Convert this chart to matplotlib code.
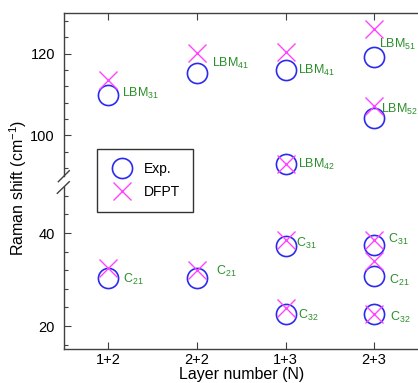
import matplotlib
matplotlib.use("Agg")
import matplotlib.pyplot as plt
from matplotlib.lines import Line2D
import numpy as np

plt.rcParams['font.family'] = ['Liberation Sans', 'DejaVu Sans']
plt.rcParams['mathtext.fontset'] = 'custom'
plt.rcParams['mathtext.rm'] = 'Liberation Sans'
plt.rcParams['mathtext.it'] = 'Liberation Sans:italic'
plt.rcParams['mathtext.bf'] = 'Liberation Sans:bold'

# ---------------- data ----------------
categories = ['1+2', '2+2', '1+3', '2+3']

lbm_layer = ['1+2', '2+2', '1+3', '2+3', '2+3', '1+3']
lbm_exp = [109.8, 115.2, 115.9, 119.2, 104.3, 93.0]
lbm_dfpt = [113.5, 120.1, 120.4, 126.1, 107.1, 93.0]
lbm_labels = ['LBM$_{31}$', 'LBM$_{41}$', 'LBM$_{41}$', 'LBM$_{51}$', 'LBM$_{52}$', 'LBM$_{42}$']

c_layer = ['1+2', '2+2', '1+3', '1+3', '2+3', '2+3', '2+3']
c_exp = [30.4, 30.3, 37.2, 22.6, 37.4, 30.8, 22.6]
c_dfpt = [32.4, 32.1, 38.5, 23.8, 38.5, 34.0, 22.6]
c_labels = ['C$_{21}$', 'C$_{21}$', 'C$_{31}$', 'C$_{32}$', 'C$_{31}$', 'C$_{21}$', 'C$_{32}$']

upper_ticks = [100, 120]
lower_ticks = [20, 40]

# ---------------- style ----------------
BLUE = '#2b2bf0'
MAG = '#ff44ff'
GREEN = '#2a8f2a'
SPINE = '#404040'

# label offsets in pixels (dx, dy up) relative to the Exp. marker
lbm_off = [(14, 3), (15, 11), (13, 2), (5, 14), (7, 10), (13, 1)]
c_off = [(15, 0), (19, 8), (11, 4), (12, 0), (14, 7), (15, -3), (16, -2)]

W, H = 418, 383
fig = plt.figure(figsize=(W / 100, H / 100), dpi=100)

left = 64 / W
width = (418.4 - 64) / W
ax_u = fig.add_axes([left, 1 - 176 / H, width, (176 - 13) / H])
ax_l = fig.add_axes([left, 1 - 349.3 / H, width, (349.3 - 186.5) / H])

def xpos(layers):
    return [categories.index(s) for s in layers]

for ax, lay, ex, df, labs, offs in [
        (ax_u, lbm_layer, lbm_exp, lbm_dfpt, lbm_labels, lbm_off),
        (ax_l, c_layer, c_exp, c_dfpt, c_labels, c_off)]:
    xs = xpos(lay)
    ax.plot(xs, ex, linestyle='none', marker='o', ms=14.5, mfc='none',
            mec=BLUE, mew=1.2, label='Exp.', clip_on=False)
    ax.plot(xs, df, linestyle='none', marker='x', ms=13, mec=MAG,
            mew=1.0, label='DFPT', clip_on=False)
    for x, y, t, (dx, dy) in zip(xs, ex, labs, offs):
        ax.annotate(t, (x, y), xytext=(dx, dy - 5), textcoords='offset pixels',
                    ha='left', va='baseline', color=GREEN, fontsize=9)
    ax.set_xlim(-0.5, 3.5)
    ax.spines['right'].set_visible(False)
    for s in ['left', 'top', 'bottom']:
        ax.spines[s].set_color(SPINE)
        ax.spines[s].set_linewidth(1.0)
    ax.tick_params(axis='both', which='both', direction='in', colors=SPINE,
                   labelcolor='black', labelsize=10.5)
    ax.tick_params(axis='y', which='major', length=5, width=0.8, pad=6.5)
    ax.tick_params(axis='y', which='minor', length=3, width=0.8)
    ax.set_xticks(range(len(categories)))

ax_u.set_ylim(90, 130)
ax_u.set_yticks(upper_ticks)
ax_u.set_yticks(np.arange(92, 130, 4), minor=True)
ax_u.spines['bottom'].set_visible(False)
ax_u.tick_params(axis='x', which='both', bottom=False, top=True, labelbottom=False,
                 length=5, width=0.8)

ax_l.set_ylim(15, 50)
ax_l.set_yticks(lower_ticks)
ax_l.set_yticks(np.arange(16, 50, 4), minor=True)
ax_l.spines['top'].set_visible(False)
ax_l.set_xticks(range(len(categories)))
ax_l.set_xticklabels(categories)
ax_l.tick_params(axis='x', which='both', bottom=True, top=False, length=5,
                 width=0.8, pad=2.5)
ax_l.set_xlabel('Layer number (N)', fontsize=11.5, labelpad=0)

fig.text(18 / W, 1 - 188 / H, 'Raman shift (cm$^{-1}$)', rotation=90,
         ha='center', va='center', fontsize=11.5)

# axis break marks
for (x0, y0, x1, y1) in [(58.3, 181.7, 69.3, 170.7), (57.3, 193.3, 69.3, 181.7)]:
    fig.add_artist(Line2D([x0 / W, x1 / W], [1 - y0 / H, 1 - y1 / H],
                          transform=fig.transFigure, color=SPINE, lw=1.0))

h, l = ax_l.get_legend_handles_labels()
leg = fig.legend(h, l, loc='upper left', bbox_to_anchor=(97.3 / W, 1 - 149 / H),
                 borderaxespad=0, fontsize=10, frameon=True, fancybox=False,
                 edgecolor='#333333', framealpha=1, handlelength=1.7,
                 handletextpad=0.75, borderpad=0.9, labelspacing=0.7)
leg.get_frame().set_linewidth(1.0)

fig.savefig('out.png', dpi=100)
